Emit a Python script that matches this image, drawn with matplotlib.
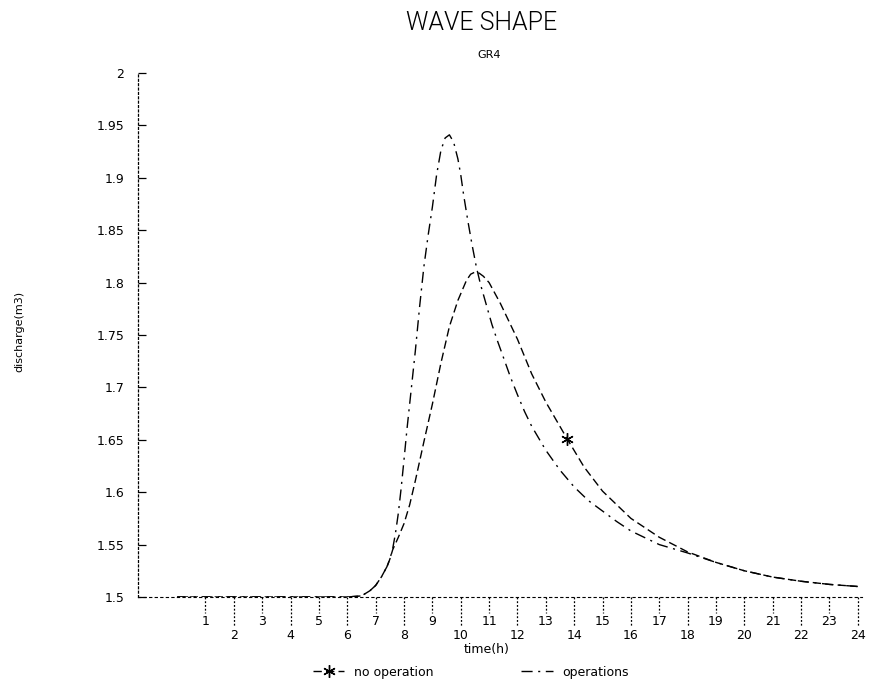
import matplotlib
matplotlib.use("Agg")
import matplotlib.pyplot as plt
import matplotlib.transforms as mtrans

# discharge
t_op = [0, 1, 2, 3, 4, 5, 6, 6.5, 6.8, 7.0, 7.2, 7.4, 7.5, 7.6, 7.7, 7.8, 7.9, 8.0,
        8.1, 8.25, 8.4, 8.55, 8.7, 8.85, 9.0, 9.15, 9.3, 9.45, 9.6, 9.75, 9.9, 10.0,
        10.1, 10.25, 10.4, 10.55, 10.7, 10.9, 11.1, 11.3, 11.5, 11.75, 12.0, 12.25,
        12.5, 13.0, 13.5, 14.0, 14.5, 15.0, 15.5, 16.0, 17.0, 18.0, 19.0, 20.0, 21.0,
        22.0, 23.0, 24.0]
q_op = [1.5, 1.5, 1.5, 1.5, 1.5, 1.5, 1.5, 1.501, 1.506, 1.511, 1.519, 1.529, 1.536,
        1.546, 1.561, 1.580, 1.604, 1.631, 1.659, 1.697, 1.735, 1.777, 1.815, 1.845,
        1.872, 1.903, 1.926, 1.938, 1.941, 1.934, 1.918, 1.903, 1.884, 1.859, 1.836,
        1.815, 1.798, 1.779, 1.760, 1.744, 1.729, 1.710, 1.693, 1.677, 1.663, 1.640,
        1.621, 1.605, 1.592, 1.582, 1.572, 1.563, 1.550, 1.542, 1.533, 1.525, 1.519,
        1.515, 1.512, 1.510]

t_no = [0, 1, 2, 3, 4, 5, 6, 6.5, 6.8, 7.0, 7.2, 7.4, 7.5, 7.6, 7.8, 8.0, 8.2, 8.4,
        8.7, 9.0, 9.3, 9.6, 9.9, 10.2, 10.35, 10.5, 10.65, 10.8, 11.0, 11.4, 12.0,
        12.5, 13.0, 13.75, 14.35, 15.0, 16.0, 17.0, 18.0, 19.0, 20.0, 21.0, 22.0,
        23.0, 24.0]
q_no = [1.5, 1.5, 1.5, 1.5, 1.5, 1.5, 1.5, 1.501, 1.506, 1.511, 1.519, 1.529, 1.536,
        1.545, 1.557, 1.570, 1.588, 1.611, 1.648, 1.684, 1.723, 1.758, 1.783, 1.802,
        1.808, 1.810, 1.809, 1.806, 1.800, 1.780, 1.746, 1.713, 1.686, 1.651, 1.624,
        1.601, 1.575, 1.557, 1.543, 1.533, 1.525, 1.519, 1.515, 1.512, 1.510]
star_at = 13.75

yticks = [1.5, 1.55, 1.6, 1.65, 1.7, 1.75, 1.8, 1.85, 1.9, 1.95, 2.0]
ylabels = ['1.5', '1.55', '1.6', '1.65', '1.7', '1.75', '1.8', '1.85', '1.9', '1.95', '2']
xticks = list(range(1, 25))

fig = plt.figure(figsize=(8.92, 6.88), dpi=100)
ax = fig.add_axes([0.1547, 0.1323, 0.8117, 0.7616])

ax.plot(t_no, q_no, color='black', lw=1.0, ls=(0, (6, 3)),
        marker=(6, 2, 0), markersize=9, markevery=[t_no.index(star_at)],
        label='no operation')
ax.plot(t_op, q_op, color='black', lw=1.0, ls=(0, (8, 4, 1.5, 4)),
        label='operations')

ax.set_xlim(-1.38, 24.15)
ax.set_ylim(1.5, 2.0)

for s in ['top', 'right']:
    ax.spines[s].set_visible(False)
ax.spines['left'].set_linestyle((0, (1.5, 2)))
ax.spines['left'].set_linewidth(0.9)
ax.spines['bottom'].set_linestyle((0, (2, 3)))
ax.spines['bottom'].set_linewidth(0.8)

ax.set_yticks(yticks)
ax.set_yticklabels(ylabels)
ax.tick_params(axis='y', direction='in', length=6, width=0.9, pad=10, labelsize=9)

# staggered x tick labels, odd on upper row, even on lower row
ax.set_xticks([])
trans = mtrans.blended_transform_factory(ax.transData, ax.transAxes)
for h in xticks:
    drop = 0.030 if h % 2 else 0.058
    ax.plot([h, h], [0, -drop], transform=trans, clip_on=False,
            color='black', lw=0.9, ls=(0, (1.5, 1.5)))
    ax.text(h, -drop - 0.004, str(h), transform=trans, ha='center', va='top',
            fontsize=9)

ax.text(10.9, -0.088, 'time(h)', transform=trans, ha='center', va='top', fontsize=9)
fig.text(0.022, 0.518, 'discharge(m3)', rotation=90, ha='center', va='center', fontsize=8)

fig.text(0.54, 0.966, 'WAVE SHAPE', ha='center', va='center', fontsize=18,
         family='Roboto', fontweight=300, color='black')
fig.text(0.548, 0.92, 'GR4', ha='center', va='center', fontsize=8)

ax.legend(loc='upper center', bbox_to_anchor=(0.46, -0.11), ncol=2, frameon=False,
          fontsize=9, handlelength=2.5, columnspacing=7)

fig.savefig('out.png', dpi=100)
